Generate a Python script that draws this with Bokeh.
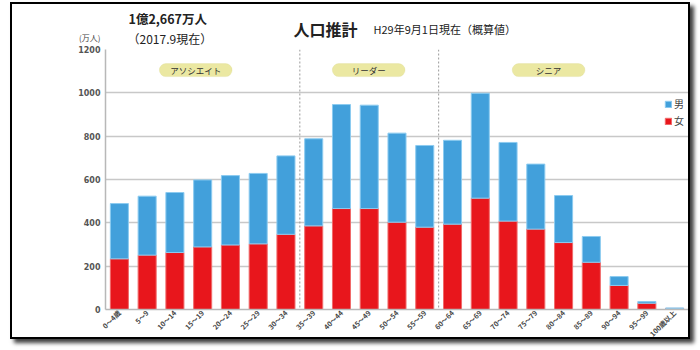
from math import pi
from bokeh.plotting import figure
from bokeh.layouts import column
from bokeh.models import (FactorRange, Range1d, Span, Label, BoxAnnotation,
                          Legend, LegendItem, FixedTicker, ColumnDataSource,
                          LinearAxis)
from bokeh.embed import file_html
from bokeh.resources import INLINE

# ---- data ----
ages = ["0～4歳", "5～9", "10～14", "15～19", "20～24", "25～29", "30～34",
        "35～39", "40～44", "45～49", "50～54", "55～59",
        "60～64", "65～69", "70～74", "75～79", "80～84", "85～89", "90～94",
        "95～99", "100歳以上"]
female = [234, 251, 263, 289, 298, 303, 347, 386, 466, 466, 403, 380,
          394, 514, 408, 371, 309, 218, 111, 29, 5]
male = [255, 272, 277, 309, 320, 325, 362, 402, 480, 477, 411, 377,
        387, 484, 363, 300, 217, 119, 41, 8, 2]
groups = ["アソシエイト", "リーダー", "シニア"]
group_bounds = [7, 12]          # category index where each new group starts
y_ticks = [0, 200, 400, 600, 800, 1000, 1200]
unit_label = "(万人)"

RED = "#e8161c"
BLUE = "#42a0db"
JP = "Noto Sans CJK JP"
W = 676

# ---- header (titles); ranges map to page pixels ----
hdr = figure(width=W, height=41, title=None, output_backend="svg",
             toolbar_location=None, x_axis_type=None, y_axis_type=None,
             x_range=Range1d(105, 688), y_range=Range1d(45, 4),
             min_border=0, min_border_left=0, min_border_right=0,
             min_border_top=0, min_border_bottom=0)
hdr.outline_line_color = None
hdr.grid.visible = False

unit_axis = LinearAxis(ticker=FixedTicker(ticks=[37]),
                       major_label_overrides={37: unit_label},
                       axis_line_color=None, major_tick_line_color=None,
                       minor_tick_line_color=None, major_tick_out=0,
                       major_tick_in=0, minor_tick_out=0,
                       major_label_standoff=5,
                       major_label_text_font=JP,
                       major_label_text_font_size="8px",
                       major_label_text_color="#444444")
hdr.add_layout(unit_axis, "left")


def lab(fig, x, y, text, size, bold=False, align="left", color="#222222"):
    fig.add_layout(Label(x=x, y=y, text=text, text_align=align,
                         text_baseline="middle", text_font=JP,
                         text_font_size=size, text_color=color,
                         text_font_style="bold" if bold else "normal"))


lab(hdr, 128, 18, "1億2,667万人", "12.5px", bold=True)
lab(hdr, 127, 37.5, "（2017.9現在）", "12px")
lab(hdr, 293, 28, "人口推計", "16px", bold=True)
lab(hdr, 373, 28, "H29年9月1日現在（概算値）", "11px")

# ---- chart ----
source = ColumnDataSource(dict(age=ages, female=female, male=male))

p = figure(width=W, height=303, title=None,
           x_range=FactorRange(*ages, range_padding=0),
           y_range=Range1d(0, 1200),
           output_backend="svg", toolbar_location=None,
           min_border_left=93, min_border_right=0,
           min_border_top=4, min_border_bottom=39)
p.outline_line_color = None

rs = p.vbar_stack(["female", "male"], x="age", width=0.65, source=source,
                  fill_color=[RED, BLUE], line_color=["#f06a6a", "#8ccbf0"],
                  line_width=1)

p.yaxis.ticker = FixedTicker(ticks=y_ticks)
p.yaxis.major_tick_line_color = None
p.yaxis.minor_tick_line_color = None
p.yaxis.major_tick_out = 0
p.yaxis.minor_tick_out = 0
p.yaxis.axis_line_color = "#b8b8b8"
p.yaxis.axis_line_width = 1.5
p.yaxis.major_label_text_font = "DejaVu Sans"
p.yaxis.major_label_text_font_size = "8px"
p.yaxis.major_label_text_font_style = "bold"
p.yaxis.major_label_text_color = "#555555"
p.yaxis.major_label_standoff = 5

p.xaxis.major_tick_line_color = None
p.xaxis.major_tick_out = 0
p.xaxis.major_tick_in = 0
p.xaxis.axis_line_color = "#b8b8b8"
p.xaxis.axis_line_width = 1.5
p.xaxis.major_label_orientation = pi / 4
p.xaxis.major_label_text_font = JP
p.xaxis.major_label_text_font_size = "7px"
p.xaxis.major_label_text_font_style = "bold"
p.xaxis.major_label_text_color = "#444444"
p.xaxis.major_label_standoff = 2

p.xgrid.grid_line_color = None
p.ygrid.grid_line_color = "#c8c8c8"
p.ygrid.grid_line_width = 1.5

for b in group_bounds:
    p.add_layout(Span(location=b, dimension="height", line_color="#9a9a9a",
                      line_dash="2 2", line_width=1))

# group pills (x in category units, y in data units)
pill_centers = [3.25, 9.48, 15.96]
pill_half = 1.31
for g, cx in zip(groups, pill_centers):
    p.add_layout(BoxAnnotation(left=cx - pill_half, right=cx + pill_half,
                               bottom=1075, top=1135,
                               fill_color="#ebe8a2", fill_alpha=1,
                               line_color="#dcd993", line_width=1,
                               border_radius=7, level="underlay"))
    p.add_layout(Label(x=cx, y=1105, text=g, text_align="center",
                       text_baseline="middle", text_font=JP,
                       text_font_size="8.5px", text_color="#333333"))

legend = Legend(items=[LegendItem(label="男", renderers=[rs[1]]),
                       LegendItem(label="女", renderers=[rs[0]])],
                location=(559, 181), orientation="vertical",
                glyph_width=8, glyph_height=8, label_height=12,
                label_text_font=JP, label_text_font_size="10px",
                label_standoff=2, spacing=2, padding=0, margin=0,
                background_fill_alpha=0, border_line_color=None)
p.add_layout(legend)

layout = column(hdr, p, spacing=0,
                styles={"margin-left": "10px", "margin-top": "2px",
                        "height": "337px", "overflow": "hidden",
                        "border": "2px solid #000000",
                        "box-shadow": "4px 4px 4px rgba(0,0,0,0.75)",
                        "background-color": "white"})

open("out.html", "w").write(file_html(layout, INLINE))
